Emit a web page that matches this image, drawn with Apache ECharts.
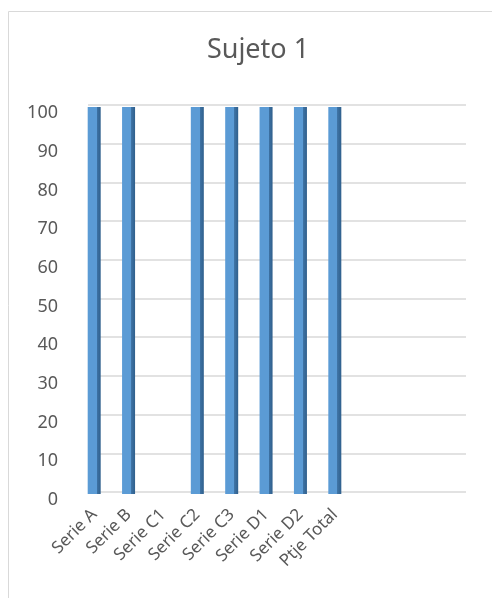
<!DOCTYPE html>
<html>
<head>
<meta charset="utf-8">
<script src="https://cdn.jsdelivr.net/npm/echarts@6/dist/echarts.min.js"></script>
<style>
  html, body { margin: 0; padding: 0; background: #fff; }
  #chart { width: 492px; height: 598px; }
</style>
</head>
<body>
<div id="chart"></div>
<script>
var categories = ['Serie A', 'Serie B', 'Serie C1', 'Serie C2', 'Serie C3', 'Serie D1', 'Serie D2', 'Ptje Total'];
var values = [100, 100, null, 100, 100, 100, 100, 100];
var yTicks = [0, 10, 20, 30, 40, 50, 60, 70, 80, 90, 100];

var chart = echarts.init(document.getElementById('chart'));

var textColor = '#595959';
var font = 'Noto Sans';

var option = {
    animation: false,
    title: {
        text: 'Sujeto 1',
        left: 253,
        top: 32,
        textAlign: 'center',
        textStyle: { fontFamily: font, fontSize: 27, fontWeight: 'normal', color: textColor }
    },
    graphic: [{
        type: 'rect',
        shape: { x: 8.5, y: 11.5, width: 500, height: 620 },
        style: { fill: 'none', stroke: '#d9d9d9', lineWidth: 1 },
        silent: true
    }],
    grid: [
        // gridlines (back wall)
        { left: 88, right: 26, top: 105, bottom: 106 },
        // bars
        { left: 77, width: 275, top: 107, bottom: 104 }
    ],
    xAxis: [
        { gridIndex: 0, type: 'category', data: [''], show: false },
        {
            gridIndex: 1,
            type: 'category',
            data: categories,
            axisLine: { show: false },
            axisTick: { show: false },
            axisLabel: {
                rotate: 45,
                interval: 0,
                margin: 18,
                fontFamily: font,
                fontSize: 17,
                color: textColor
            }
        }
    ],
    yAxis: [
        {
            gridIndex: 0,
            type: 'value',
            min: yTicks[0],
            max: yTicks[yTicks.length - 1],
            interval: 10,
            axisLine: { show: false },
            axisTick: { show: false },
            axisLabel: { show: false },
            splitLine: { lineStyle: { color: '#d9d9d9', width: 1.5 } }
        },
        {
            gridIndex: 1,
            type: 'value',
            min: yTicks[0],
            max: yTicks[yTicks.length - 1],
            interval: 10,
            axisLine: { show: false },
            axisTick: { show: false },
            splitLine: { show: false },
            axisLabel: {
                margin: 19,
                verticalAlign: 'top',
                lineHeight: 12,
                fontFamily: font,
                fontSize: 18,
                color: textColor
            }
        }
    ],
    series: [{
        type: 'bar',
        xAxisIndex: 1,
        yAxisIndex: 1,
        data: values,
        barWidth: 13,
        itemStyle: {
            color: new echarts.graphic.LinearGradient(0, 0, 1, 0, [
                { offset: 0, color: '#5b9bd5' },
                { offset: 0.7, color: '#5b9bd5' },
                { offset: 0.7, color: '#3f74a6' },
                { offset: 1, color: '#2f5f8c' }
            ])
        }
    }]
};

chart.setOption(option);
</script>
</body>
</html>
